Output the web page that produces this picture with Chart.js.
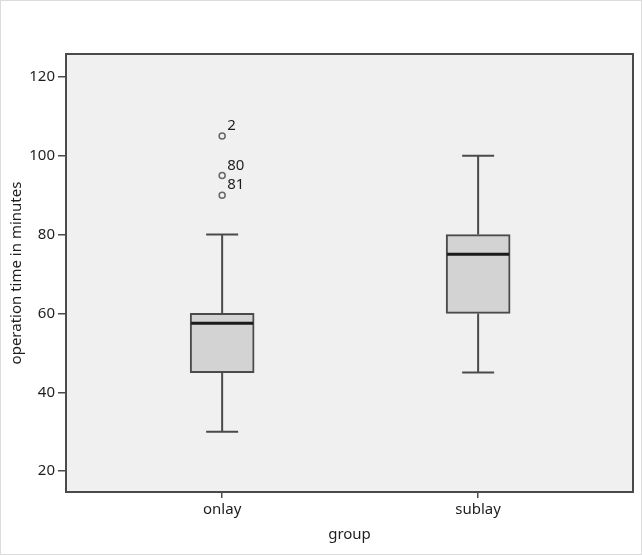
<!DOCTYPE html>
<html>
<head>
<meta charset="utf-8">
<script src="https://cdn.jsdelivr.net/npm/chart.js@4"></script>
<style>
  body { margin: 0; background: #fff; }
  #wrap { width: 642px; height: 555px; }
</style>
</head>
<body>
<div id="wrap"><canvas id="boxChart" width="642" height="555"></canvas></div>
<script>
// ---------- DATA ----------
const groups = ['onlay', 'sublay'];
const whiskerLow = [30, 45];
const q1 = [45, 60];
const median = [57.5, 75];
const q3 = [60, 80];
const whiskerHigh = [80, 100];
const outlierGroup = [1, 1, 1];
const outlierValues = [105, 95, 90];
const outlierLabels = ['2', '80', '81'];
const yTicks = [20, 40, 60, 80, 100, 120];

const FONT = "'Noto Sans', sans-serif";
const LINE = '#4a4a4a';

// background + frame
const frame = {
  id: 'frame',
  beforeDraw(chart) {
    const { ctx, chartArea: a } = chart;
    ctx.save();
    ctx.fillStyle = '#fff';
    ctx.fillRect(0, 0, chart.width, chart.height);
    ctx.strokeStyle = '#dcdcdc';
    ctx.lineWidth = 1;
    ctx.strokeRect(0.5, 0.5, chart.width - 1, chart.height - 1);
    ctx.fillStyle = '#f0f0f0';
    ctx.fillRect(a.left, a.top, a.right - a.left, a.bottom - a.top);
    ctx.restore();
  },
  afterDraw(chart) {
    const { ctx, chartArea: a } = chart;
    ctx.save();
    ctx.strokeStyle = LINE;
    ctx.lineWidth = 2;
    ctx.strokeRect(a.left, a.top, a.right - a.left, a.bottom - a.top);
    ctx.restore();
  }
};

// whiskers, caps, medians, outlier ids
const boxExtras = {
  id: 'boxExtras',
  beforeDatasetsDraw(chart) {
    const { ctx } = chart;
    const x = chart.scales.x, y = chart.scales.y;
    const capHalf = (x.getPixelForValue(1.0625) - x.getPixelForValue(1));
    ctx.save();
    ctx.strokeStyle = LINE;
    ctx.lineWidth = 2;
    groups.forEach((g, i) => {
      const cx = x.getPixelForValue(i + 1);
      ctx.beginPath();
      ctx.moveTo(cx, y.getPixelForValue(whiskerLow[i]));
      ctx.lineTo(cx, y.getPixelForValue(q1[i]));
      ctx.moveTo(cx, y.getPixelForValue(q3[i]));
      ctx.lineTo(cx, y.getPixelForValue(whiskerHigh[i]));
      [whiskerLow[i], whiskerHigh[i]].forEach(v => {
        ctx.moveTo(cx - capHalf, y.getPixelForValue(v));
        ctx.lineTo(cx + capHalf, y.getPixelForValue(v));
      });
      ctx.stroke();
    });
    ctx.restore();
  },
  afterDatasetsDraw(chart) {
    const { ctx } = chart;
    const x = chart.scales.x, y = chart.scales.y;
    const halfBox = (x.getPixelForValue(1.125) - x.getPixelForValue(1));
    ctx.save();
    ctx.strokeStyle = '#1a1a1a';
    ctx.lineWidth = 3;
    groups.forEach((g, i) => {
      const cx = x.getPixelForValue(i + 1);
      const my = y.getPixelForValue(median[i]);
      ctx.beginPath();
      ctx.moveTo(cx - halfBox + 1, my);
      ctx.lineTo(cx + halfBox - 1, my);
      ctx.stroke();
    });
    ctx.fillStyle = '#1e1e1e';
    ctx.font = '15px ' + FONT;
    ctx.textAlign = 'left';
    ctx.textBaseline = 'middle';
    outlierValues.forEach((v, i) => {
      ctx.fillText(outlierLabels[i], x.getPixelForValue(outlierGroup[i]) + 5, y.getPixelForValue(v) - 10);
    });
    ctx.restore();
  }
};

const ctxBox = document.getElementById('boxChart');

new Chart(ctxBox, {
  type: 'bar',
  data: {
    datasets: [
      {
        type: 'bar',
        label: 'box',
        data: groups.map((g, i) => ({ x: i + 1, y: [q1[i], q3[i]] })),
        backgroundColor: '#d3d3d3',
        borderColor: LINE,
        borderWidth: 2,
        borderSkipped: false,
        barThickness: 64,
        grouped: false
      },
      {
        type: 'scatter',
        label: 'outliers',
        data: outlierValues.map((v, i) => ({ x: outlierGroup[i], y: v })),
        pointRadius: 3,
        pointBackgroundColor: 'rgba(0,0,0,0)',
        pointBorderColor: '#666',
        pointBorderWidth: 1.5
      }
    ]
  },
  plugins: [frame, boxExtras],
  options: {
    responsive: false,
    animation: false,
    layout: { padding: { left: 0, top: 54, right: 9, bottom: 0 } },
    plugins: {
      legend: { display: false },
      tooltip: { enabled: false }
    },
    scales: {
      x: {
        type: 'linear',
        min: 0.39,
        max: 2.605,
        offset: false,
        afterBuildTicks(scale) { scale.ticks = [{ value: 1 }, { value: 2 }]; },
        afterFit(scale) { scale.height = 63; },
        ticks: {
          callback: v => groups[v - 1],
          color: '#1e1e1e',
          font: { family: FONT, size: 15 },
          padding: 3
        },
        grid: { offset: false, drawOnChartArea: false, drawTicks: true, tickLength: 6, color: LINE, lineWidth: 1.5 },
        border: { display: false },
        title: {
          display: true,
          text: 'group',
          color: '#1e1e1e',
          font: { family: FONT, size: 15 },
          padding: { top: 0, bottom: 11 }
        }
      },
      y: {
        min: 14.7,
        max: 125.8,
        afterBuildTicks(scale) { scale.ticks = yTicks.map(v => ({ value: v })); },
        afterFit(scale) { scale.width = 66; },
        ticks: {
          color: '#1e1e1e',
          font: { family: FONT, size: 15 },
          padding: 3
        },
        grid: { drawOnChartArea: false, drawTicks: true, tickLength: 8, color: LINE, lineWidth: 1.5 },
        border: { display: false },
        title: {
          display: true,
          text: 'operation time in minutes',
          color: '#1e1e1e',
          font: { family: FONT, size: 15 },
          padding: { top: 8, bottom: 0 }
        }
      }
    }
  }
});
</script>
</body>
</html>
